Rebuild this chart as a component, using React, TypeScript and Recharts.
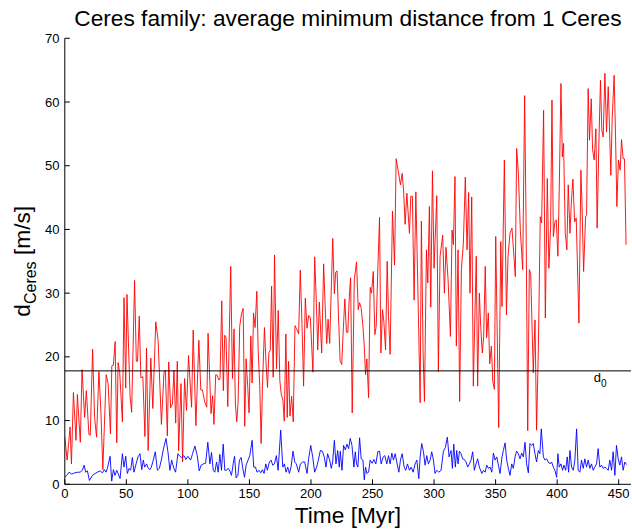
import React from 'react';
import { LineChart, Line, XAxis, YAxis, ReferenceLine } from 'recharts';

// [time (Myr), distance (m/s)]
const redSeries: [number, number][] = [
  [0, 7.5], [1.9, 3.8], [4.3, 9], [5.4, 3.2], [7.0, 14.4], [9.1, 6.9], [10.2, 14.1], [12.6, 6.6], [14.0, 18], [16.1, 10.5],
  [17.5, 14.7], [19.6, 7.8], [20.7, 7.7], [22.6, 21.2], [24.2, 10.5], [25.8, 7.4], [27.7, 17.7], [29.3, 11.6], [30.9, 2.3], [33.6, 17.2],
  [35.2, 15.8], [37.1, 7.9], [38.2, 18.6], [39.5, 18.7], [40.9, 22.4], [42.2, 6.5], [43.3, 19.1], [44.6, 17.6], [46.8, 9.8], [48.1, 29.3],
  [49.5, 15.1], [50.5, 29.8], [53.0, 13.9], [54.3, 11.3], [56.7, 32], [58.1, 19.3], [59.1, 19.3], [60.5, 26.4], [61.8, 16.7], [63.4, 16.9],
  [65.1, 7.5], [66.4, 21.4], [67.7, 5.3], [69.9, 19.8], [71.5, 11.9], [73.9, 25.5], [75.8, 22.6], [78.5, 9.4], [80.6, 17.6], [81.7, 17.9],
  [83.3, 7.6], [84.4, 19.2], [86.0, 12], [87.4, 12.6], [88.7, 17.9], [90.1, 9.6], [91.4, 19.3], [92.5, 5.3], [94.4, 15.8], [95.7, 3.5],
  [97.3, 16.6], [98.9, 11.6], [100.5, 20.2], [103.0, 12.1], [104.3, 24.2], [106.5, 9.2], [108.9, 22.6], [110.5, 14.8], [111.8, 14.8], [113.7, 12.9],
  [115.3, 12.1], [116.4, 23.7],
  [118.8, 11.1], [120.1, 13.9], [121.2, 9.4], [122.6, 17.2], [123.9, 17.1], [125.0, 16.4], [126.1, 16.5], [127.5, 28.8], [128.8, 14.7], [129.9, 23.4],
  [131.0, 23.1], [132.4, 12.2], [134.8, 34.2], [136.2, 16.6], [137.5, 24.4], [138.6, 12.6], [139.7, 9.8], [140.8, 12.9], [142.1, 24.8], [143.5, 26.7],
  [144.9, 27.6], [146.2, 9.1], [147.3, 19.7], [148.7, 15], [149.7, 11.2], [151.1, 23.3], [152.2, 15.9], [153.3, 26.9], [154.6, 24.6], [156.0, 30.3],
  [157.1, 21], [158.4, 15.5], [159.5, 6.4], [160.6, 15.5], [162.2, 24.6], [163.6, 18.6], [164.7, 15.2], [165.8, 20.7], [166.9, 21], [168.0, 31.1],
  [169.3, 16.8], [170.4, 36], [172.0, 18.1], [173.4, 27.3], [174.7, 16.3], [175.8, 14.2], [177.2, 13.2], [178.3, 9.9], [179.6, 23.6], [180.7, 10.5],
  [181.8, 19.3], [182.9, 10.7], [184.3, 13.8], [185.6, 9.8], [187.0, 24.9], [188.3, 24.4], [190.0, 23.6], [191.3, 33.6], [192.7, 25.2], [194.0, 15.4],
  [195.4, 29.2], [196.8, 24.5], [198.1, 26.5], [199.5, 26.1], [201.6, 17.6], [203.0, 35.7], [204.4, 28.5], [205.5, 21.1], [206.8, 28.6], [208.7, 20.6],
  [210.3, 34.6], [211.4, 28.6], [212.8, 22.1], [213.9, 25.9], [215.2, 22.1], [217.7, 38.6], [219.0, 29.9], [220.1, 33.3], [221.2, 33.5], [222.3, 26.6],
  [223.7, 19.3], [225.0, 18.8], [226.1, 23.7], [227.5, 29.1], [228.8, 23.9], [229.9, 23.8], [231.3, 30],
  [232.2, 32.4], [233.5, 11.2], [235.2, 32.1], [237.0, 34.9], [238.4, 27.4], [239.5, 28.5], [240.8, 27.7], [242.2, 24.8], [243.3, 21.7], [244.3, 17.2],
  [245.4, 19.7], [246.8, 13.6], [248.1, 30.9], [249.2, 30], [250.6, 33.4], [251.9, 23.5], [253.0, 24.8], [254.3, 33.7], [255.7, 41.9], [256.8, 20.6],
  [258.1, 27.4], [259.2, 25.6], [260.6, 21.1], [261.9, 35], [263.0, 26.4], [264.3, 20.4], [266.2, 42.9], [267.9, 34.4], [269.2, 51.1], [270.8, 49.3],
  [272.7, 47], [274.1, 48.8], [275.2, 46.2], [276.5, 40.8], [277.9, 45.7], [280.0, 39.4], [281.1, 45.2], [282.4, 45.2], [283.8, 28.9], [285.2, 45.9],
  [287.3, 26.4], [288.7, 12.8], [289.7, 41.3], [291.1, 20.6], [292.2, 13], [293.8, 36.8], [294.9, 31.6], [296.2, 43.6], [297.3, 27.8], [298.7, 49.2],
  [300.0, 33.9], [302.2, 45.3], [303.5, 17.7], [304.9, 35.8], [307.0, 39.1], [308.4, 30], [309.7, 37.2], [311.4, 32.1], [313.3, 23.2], [314.6, 39.9],
  [315.7, 37.6], [317.0, 48.3], [318.1, 21.7], [319.5, 36.8], [320.8, 13], [322.2, 33.7], [323.8, 37.8], [325.4, 48.2], [326.8, 36.8], [328.1, 45.8],
  [329.2, 30], [330.6, 45.1], [331.9, 15.4], [334.3, 35.8], [335.4, 15.4], [336.8, 30], [337.9, 24.8], [339.2, 20.6], [340.3, 23.2], [341.6, 34.2],
  [342.7, 23], [344.1, 26.9], [345.2, 18.9],
  [346.6, 21.7], [347.7, 16.2], [349.0, 14.9], [350.1, 38.9], [352.5, 8.9], [354.2, 38.1], [355.2, 27.9], [357.1, 50.9], [358.8, 26.6], [360.1, 35.8],
  [361.7, 39.4], [363.3, 40.2], [366.0, 32.6], [367.1, 52.7], [368.5, 48.8], [370.1, 39.8], [372.0, 33.7], [373.6, 61], [374.7, 42], [376.1, 8.4],
  [377.4, 33.7], [378.5, 33.1], [380.6, 17.5], [382.0, 25.8], [383.3, 8.5], [384.7, 21.1], [386.3, 42], [387.4, 41], [389.0, 58.7], [390.4, 26.1],
  [392.0, 48], [393.3, 33.9], [394.7, 40.4], [395.8, 60.3], [396.9, 38.9], [398.2, 41.2], [399.3, 41.5], [400.6, 35.8], [401.7, 46.2], [403.1, 62.9],
  [404.2, 51.4], [405.2, 53.5], [406.6, 39.4], [407.9, 36.8], [409.0, 47], [410.4, 39.4], [411.5, 44.1], [412.8, 47.9], [414.2, 41.2], [415.5, 41.8],
  [417.7, 25.3], [419.3, 49.3], [420.1, 44.6], [421.5, 33.4], [423.1, 42], [423.9, 42.3], [425.2, 62.1], [426.3, 54], [427.7, 60.5], [428.8, 52.5],
  [430.1, 50.9], [431.5, 55.8], [432.5, 40.2], [433.9, 53.5], [435.2, 63.4], [436.3, 55.6], [437.4, 54.5], [438.8, 64.5], [440.1, 55.3], [441.5, 62.4],
  [442.5, 56.1], [443.6, 48.5], [444.7, 57.2], [446.3, 64.2], [447.4, 55.1], [448.5, 43.6], [449.8, 50.9], [451.2, 49.3], [452.3, 54.1], [453.6, 51.1],
  [454.7, 51.1], [456.0, 37.6],
];

const blueSeries: [number, number][] = [
  [0, 1.1], [1.6, 1.4], [3.5, 1.9], [5.7, 1.6], [8.1, 1.8], [10.3, 1.9], [12.4, 1.9], [14.3, 2.2], [15.7, 3.0], [17.0, 1.9],
  [18.4, 2.1], [20.0, 0.6], [22.5, 1.4], [24.6, 1.7], [26.5, 1.9], [28.7, 2.1], [30.6, 1.8], [32.2, 2.3], [33.5, 1.9], [34.6, 2.5],
  [36.8, 4.4], [38.1, 0.5], [39.5, 2.3], [40.8, 1.4], [42.2, 2.2], [43.3, 1.7], [44.9, 0.9], [46.8, 4.8], [48.1, 2.7], [49.5, 4.4],
  [50.8, 1.7], [52.2, 2.5], [53.5, 2.2], [54.9, 4.2], [56.2, 1.9], [57.9, 3.2], [59.5, 4.3], [61.1, 4.8], [62.5, 2.3], [63.8, 3.8],
  [64.9, 2.7], [66.5, 3.2], [67.9, 2.5], [69.2, 2.3], [70.3, 2.7], [71.9, 3.8], [73.5, 5.1], [75.2, 2.2], [76.8, 2.5], [78.4, 3.8],
  [80.0, 5.4], [82.2, 7.2], [83.8, 5.1], [85.4, 2.2], [86.8, 3.8], [88.6, 2.5], [90.0, 1.9], [91.9, 4.8], [93.5, 4.4], [95.1, 4.2],
  [96.8, 4.5], [98.4, 3.9], [100.0, 4.4], [102.2, 3.8], [103.8, 4.8], [105.7, 6.0], [107.6, 4.5], [109.2, 2.1], [110.8, 3.0],
  [112.5, 3.2], [114.4, 3.3], [116.2, 6.6], [117.9, 3.2], [119.2, 5.0], [120.6, 2.2], [121.9, 1.9], [123.3, 3.5], [124.6, 1.9], [126.0, 4.7],
  [127.3, 2.2], [128.7, 6.3], [130.0, 2.2], [131.4, 2.2], [132.7, 2.5], [134.1, 2.1], [135.4, 1.4], [136.8, 3.2], [137.9, 4.4], [139.2, 1.0],
  [140.6, 1.4], [141.9, 3.8], [143.3, 4.2], [144.6, 2.5], [146.0, 1.1], [147.3, 3.0], [148.9, 3.8], [150.3, 4.5], [152.2, 6.9], [153.5, 2.7],
  [154.9, 2.7], [156.2, 1.9], [157.9, 2.2], [159.2, 1.8], [160.6, 2.3], [161.9, 1.7], [163.3, 3.2], [164.6, 2.2], [166.2, 3.5], [167.6, 3.8],
  [168.9, 3.0], [170.3, 3.2], [171.9, 4.5], [173.3, 2.2], [175.4, 8.5], [177.1, 2.7], [178.4, 3.2], [179.8, 1.9], [181.1, 2.7], [182.5, 1.7],
  [183.8, 2.7], [185.4, 5.2], [186.8, 3.5], [188.1, 3.2], [190.0, 1.9], [191.4, 3.2], [193.3, 3.5], [194.9, 3.5], [196.8, 1.7], [198.1, 4.0],
  [199.8, 6.1], [201.4, 4.3], [203.0, 1.9], [204.6, 2.7], [206.0, 3.8], [207.6, 5.3], [209.2, 5.2], [210.8, 4.3], [212.2, 2.7], [213.5, 4.8],
  [215.2, 3.8], [216.5, 2.5], [217.6, 3.5], [219.0, 6.9], [220.3, 3.2], [221.7, 5.3], [223.0, 2.7],
  [223.8, 5.2], [225.2, 2.2], [226.5, 6.1], [227.9, 5.4], [229.2, 6.3], [230.6, 5.6], [231.9, 7.2], [233.3, 6.1], [234.9, 2.7], [236.0, 5.1],
  [237.0, 3.2], [238.1, 2.7], [239.5, 7.3], [240.8, 4.0], [242.2, 3.8], [243.3, 0.7], [244.3, 2.7], [245.4, 1.7], [246.8, 1.9], [248.1, 3.8],
  [249.7, 3.3], [251.1, 3.9], [252.7, 3.2], [254.3, 5.1], [255.7, 5.2], [257.0, 3.2], [258.7, 4.3], [260.0, 4.5], [261.6, 3.2], [263.0, 4.5],
  [264.3, 3.2], [265.7, 4.9], [267.0, 3.8], [268.4, 4.8], [269.7, 3.5], [271.4, 1.9], [272.7, 3.8], [274.1, 4.8], [275.7, 2.7], [277.0, 2.2],
  [278.4, 3.2], [280.0, 2.2], [281.4, 2.7], [283.0, 1.9], [284.6, 3.2], [286.0, 3.8], [287.6, 0.9], [288.7, 4.3], [290.0, 6.4], [291.4, 5.1],
  [292.7, 3.0], [294.1, 4.5], [295.4, 3.2], [296.8, 3.8], [298.1, 5.1], [299.5, 3.8], [300.8, 1.7], [302.2, 2.2], [303.8, 1.9], [305.7, 2.2],
  [307.6, 5.2], [309.2, 5.8], [310.8, 7.4], [312.2, 4.3], [313.8, 5.3], [314.9, 2.5], [316.0, 6.3], [317.3, 2.7], [318.4, 5.3], [319.5, 3.2],
  [320.6, 5.2], [321.9, 4.8], [323.3, 4.0], [324.6, 3.9], [326.0, 3.5], [327.3, 2.7], [328.7, 3.2], [330.0, 3.8], [331.4, 5.1], [332.7, 2.2],
  [334.1, 3.2], [335.4, 4.0], [336.8, 2.7],
  [338.8, 1.7], [340.1, 2.2], [341.5, 1.9], [342.8, 3.0], [344.2, 2.5], [345.5, 2.7], [346.9, 1.9], [348.2, 4.9], [349.6, 3.8], [350.9, 4.3],
  [352.3, 3.0], [353.6, 1.7], [355.2, 4.3], [356.3, 5.3], [357.7, 6.5], [359.0, 3.8], [360.4, 2.5], [361.7, 1.4], [363.1, 3.2], [364.4, 2.5],
  [365.8, 4.3], [367.1, 5.2], [368.5, 4.8], [369.8, 4.0], [371.2, 4.9], [372.5, 4.3], [373.9, 6.6], [375.2, 3.2], [376.6, 1.8], [377.9, 6.4],
  [379.3, 6.1], [380.6, 6.4], [382.0, 4.8], [383.3, 3.5], [384.7, 5.3], [386.0, 4.8], [387.1, 8.7], [388.8, 4.3], [390.1, 3.8], [391.5, 4.0],
  [392.8, 3.5], [394.2, 3.2], [395.5, 3.5], [396.9, 2.7], [398.2, 2.2], [399.6, 1.1], [400.6, 4.8], [401.7, 2.7], [403.1, 3.2], [404.4, 2.2],
  [405.5, 3.0], [406.9, 2.2], [408.2, 4.3], [409.3, 1.9], [410.4, 5.3], [411.7, 2.7], [413.1, 2.2], [414.4, 3.8], [415.8, 8.7], [417.1, 2.2],
  [418.5, 1.9], [419.8, 3.8], [421.2, 2.5], [422.5, 4.0], [423.9, 2.7], [425.2, 3.8], [426.6, 2.5], [427.9, 3.2], [429.3, 2.2], [430.6, 2.7],
  [432.0, 3.2], [433.3, 5.6], [434.7, 2.7], [436.0, 3.0], [437.4, 2.5], [438.8, 2.7], [440.1, 2.5], [441.5, 2.2], [442.8, 3.8], [444.2, 2.2],
  [445.5, 5.1], [446.9, 1.4], [448.2, 6.1], [449.6, 4.0], [450.9, 3.0], [452.3, 4.3], [453.6, 2.2], [455.0, 3.5], [456.3, 3.1],
];

const xTicks = [0, 50, 100, 150, 200, 250, 300, 350, 400, 450];
const yTicks = [0, 10, 20, 30, 40, 50, 60, 70];
const xDomain = [0, 460];
const yDomain = [0, 70];
const d0Value = 17.8;

const FONT = '"Liberation Sans", Arial, Helvetica, sans-serif';

const redData = redSeries.map(([t, v]) => ({ t, v }));
const blueData = blueSeries.map(([t, v]) => ({ t, v }));

const YLabel = (props: any) => {
  const vb = props.viewBox || { x: 0, y: 0, width: 0, height: 0 };
  const cx = vb.x + 30;
  const cy = vb.y + vb.height / 2;
  return (
    <text
      x={cx}
      y={cy}
      transform={`rotate(-90 ${cx} ${cy})`}
      textAnchor="middle"
      fontFamily={FONT}
      fontSize={22.7}
      fill="#000"
    >
      <tspan>d</tspan>
      <tspan fontSize={16} dy={6}>Ceres</tspan>
      <tspan dy={-6}>{'\u00a0[m/s]'}</tspan>
    </text>
  );
};

const XLabel = (props: any) => {
  const vb = props.viewBox || { x: 0, y: 0, width: 0, height: 0 };
  return (
    <text
      x={vb.x + vb.width / 2}
      y={vb.y + 38.5}
      textAnchor="middle"
      fontFamily={FONT}
      fontSize={22.7}
      fill="#000"
    >
      Time [Myr]
    </text>
  );
};

const D0Label = (props: any) => {
  const vb = props.viewBox || { x: 0, y: 0, width: 0, height: 0 };
  return (
    <text x={vb.x + vb.width - 37.3} y={vb.y + 11.2} fontFamily={FONT} fontSize={13} fill="#000">
      <tspan>d</tspan>
      <tspan fontSize={10} dy={5}>0</tspan>
    </text>
  );
};

export default function App() {
  return (
    <div style={{ position: 'absolute', left: 0, top: 0, width: 632, height: 529, background: '#fff' }}>
      <div
        style={{
          position: 'absolute',
          left: 64.8,
          top: 6.8,
          width: 566.2,
          textAlign: 'center',
          fontFamily: FONT,
          fontSize: 22.7,
          lineHeight: 1,
          color: '#000',
          whiteSpace: 'nowrap',
        }}
      >
        Ceres family: average minimum distance from 1 Ceres
      </div>
      <LineChart width={632} height={529} margin={{ top: 38.3, right: 1, bottom: 0, left: 0 }}>
        <XAxis
          type="number"
          dataKey="t"
          domain={xDomain}
          ticks={xTicks}
          interval={0}
          height={44.7}
          allowDataOverflow
          axisLine={{ stroke: '#000', strokeWidth: 1 }}
          tickLine={{ stroke: '#000', strokeWidth: 1 }}
          tickSize={-5}
          tickMargin={9.3}
          tick={{ fontSize: 13, fill: '#000', fontFamily: FONT }}
          label={XLabel}
        />
        <YAxis
          type="number"
          domain={yDomain}
          ticks={yTicks}
          interval={0}
          width={64.8}
          allowDataOverflow
          axisLine={{ stroke: '#000', strokeWidth: 1 }}
          tickLine={{ stroke: '#000', strokeWidth: 1 }}
          tickSize={-5}
          tickMargin={10.3}
          tick={{ fontSize: 13, fill: '#000', fontFamily: FONT }}
          label={YLabel}
        />
        <Line
          data={redData}
          dataKey="v"
          type="linear"
          stroke="#ff0000"
          strokeWidth={0.9}
          dot={false}
          activeDot={false}
          isAnimationActive={false}
        />
        <Line
          data={blueData}
          dataKey="v"
          type="linear"
          stroke="#0000ff"
          strokeWidth={0.9}
          dot={false}
          activeDot={false}
          isAnimationActive={false}
        />
        <ReferenceLine y={d0Value} stroke="#000" strokeWidth={1} label={D0Label} ifOverflow="extendDomain" />
      </LineChart>
    </div>
  );
}
